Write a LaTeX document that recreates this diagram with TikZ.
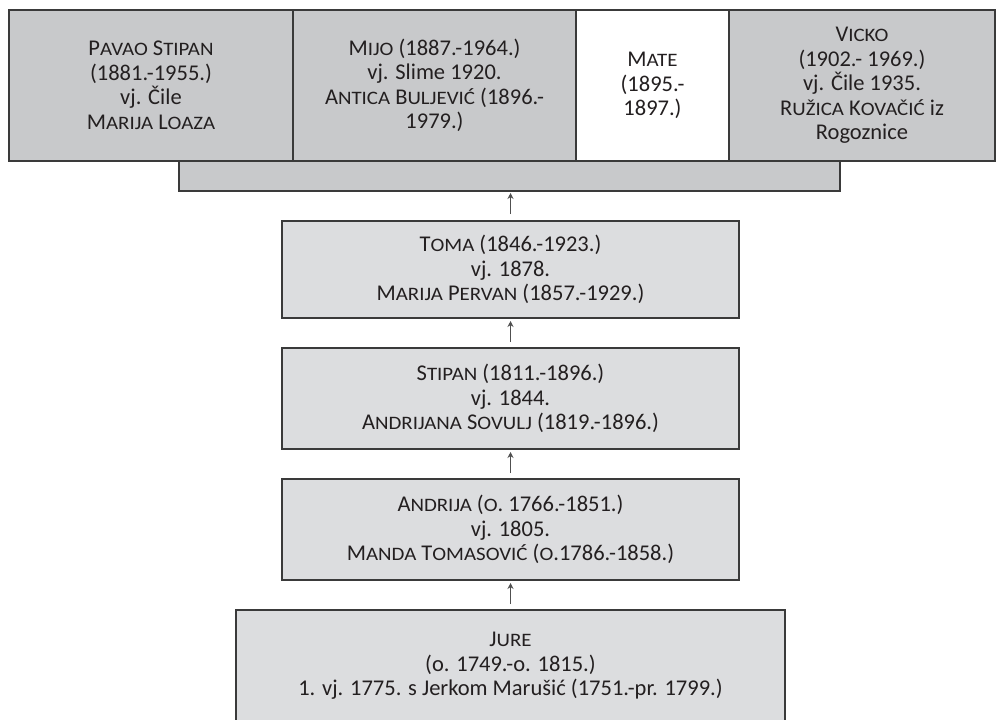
\documentclass[tikz,border=0pt]{standalone}
\usepackage{fontspec}
\setmainfont{Carlito}
\newfontfamily\scfont[FakeStretch=1.1]{Carlito}
\usetikzlibrary{arrows.meta}
\definecolor{topgray}{HTML}{C8C9CB}
\definecolor{lowgray}{HTML}{DCDDDF}
\definecolor{edge}{HTML}{3A3A3A}
\definecolor{arrowgray}{HTML}{505050}
\definecolor{ink}{HTML}{231F20}
\newcommand\smc[1]{{\scfont\fontsize{19}{19}\selectfont #1}}
\begin{document}
\begin{tikzpicture}[x=1pt,y=-1pt,
  box/.style={draw=edge, line width=1.3pt, inner sep=0pt, outer sep=0pt, align=center, text=ink, font=\fontsize{22.5}{24.5}\selectfont},
  topbox/.style={box, fill=topgray, minimum height=151pt},
  lowbox/.style={box, fill=lowgray, minimum width=457pt},
  up/.style={-{Stealth[length=6pt,width=6pt]}, draw=arrowgray, line width=1.2pt}
]
\useasboundingbox (0,0) rectangle (1004,720);

\node[box, fill=topgray, minimum width=661pt, minimum height=30pt] (bar) at (509.5,176) {};

\node[topbox, minimum width=284pt] (pavao) at (151,85.5)
  {P\smc{AVAO} S\smc{TIPAN}\\(1881.-1955.)\\vj. Čile\\M\smc{ARIJA} L\smc{OAZA}};
\node[topbox, minimum width=283pt] (mijo) at (434.5,85.5)
  {M\smc{IJO} (1887.-1964.)\\vj. Slime 1920.\\A\smc{NTICA} B\smc{ULJEVIĆ} (1896.-\\1979.)};
\node[topbox, minimum width=152pt, fill=white] (mate) at (652.5,85.5)
  {M\smc{ATE}\\(1895.-\\1897.)};
\node[topbox, minimum width=266pt] (vicko) at (862,85.5)
  {V\smc{ICKO}\\(1902.- 1969.)\\vj. Čile 1935.\\R\smc{UŽICA} K\smc{OVAČIĆ} iz\\Rogoznice};

\node[lowbox, minimum height=97pt] (toma) at (510.5,269.5)
  {T\smc{OMA} (1846.-1923.)\\vj. 1878.\\M\smc{ARIJA} P\smc{ERVAN} (1857.-1929.)};
\node[lowbox, minimum height=101pt] (stipan) at (510.5,398.5)
  {S\smc{TIPAN} (1811.-1896.)\\vj. 1844.\\A\smc{NDRIJANA} S\smc{OVULJ} (1819.-1896.)};
\node[lowbox, minimum height=101pt] (andrija) at (510.5,529.5)
  {A\smc{NDRIJA} (\smc{O}. 1766.-1851.)\\vj. 1805.\\M\smc{ANDA} T\smc{OMASOVIĆ} (\smc{O}.1786.-1858.)};

\begin{scope}
\clip (0,0) rectangle (1004,720);
\node[box, fill=lowgray, minimum width=549pt, minimum height=130pt] (jure) at (510.5,675) {};
\end{scope}
\node[align=center, text=ink, font=\fontsize{22.5}{24.5}\selectfont, inner sep=0pt] (juretext) at (510.5,666)
  {J\smc{URE}\\(o. 1749.-o. 1815.)\\1. vj. 1775. s Jerkom Marušić (1751.-pr. 1799.)};

\draw[up, shorten <=7pt, shorten >=2pt] (toma.north) -- (toma.north |- bar.south);
\draw[up, shorten <=6pt, shorten >=3pt] (stipan.north) -- (toma.south);
\draw[up, shorten <=6pt, shorten >=3pt] (andrija.north) -- (stipan.south);
\draw[up, shorten <=6pt, shorten >=3pt] (jure.north) -- (andrija.south);
\end{tikzpicture}
\end{document}
